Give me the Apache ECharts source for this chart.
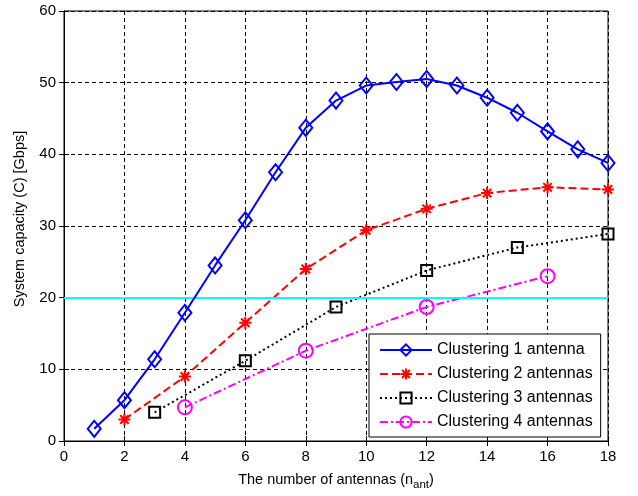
<!DOCTYPE html>
<html><head><meta charset="utf-8">
<script src="https://cdn.jsdelivr.net/npm/echarts@6/dist/echarts.min.js"></script>
<style>html,body{margin:0;padding:0;background:#fff}#c{width:638px;height:496px}</style>
</head><body><div id="c"></div>
<script>
const x1 = [1,2,3,4,5,6,7,8,9,10,11,12,13,14,15,16,17,18];
const y1 = [1.7,5.7,11.4,17.9,24.5,30.8,37.5,43.7,47.5,49.6,50.1,50.5,49.6,47.9,45.8,43.2,40.7,38.8];
const x2 = [2,4,6,8,10,12,14,16,18];
const y2 = [3.0,9.0,16.5,24.0,29.4,32.4,34.6,35.4,35.1];
const x3 = [3,6,9,12,15,18];
const y3 = [4.0,11.2,18.7,23.8,27.0,28.9];
const x4 = [4,8,12,16];
const y4 = [4.7,12.6,18.7,23.0];
const threshold = 20;
const seriesNames = ['Clustering 1 antenna','Clustering 2 antennas','Clustering 3 antennas','Clustering 4 antennas'];
const xTicks = [0,2,4,6,8,10,12,14,16,18];
const yTicks = [0,10,20,30,40,50,60];
const yTitle = 'System capacity (C) [Gbps]';

const pair = (xs, ys) => xs.map((x, i) => [x, ys[i]]);
const FONT = '"Liberation Sans", Arial, sans-serif';
const star = 'path://M0,-6L0,6M-6,0L6,0M-4.2,-4.2L4.2,4.2M-4.2,4.2L4.2,-4.2';

const chart = echarts.init(document.getElementById('c'), null, {renderer: 'canvas'});
const axisCommon = {
  axisLine: {show: true, lineStyle: {color: '#000', width: 1}},
  axisTick: {show: true, inside: true, length: 5, lineStyle: {color: '#000'}},
  axisLabel: {color: '#000', fontFamily: FONT, fontSize: 15},
};
chart.setOption({
  animation: false,
  backgroundColor: '#fff',
  grid: {left: 64, right: 30, top: 11, bottom: 55, show: true, borderColor: '#000', borderWidth: 1},
  graphic: [{
    type: 'text', rotation: Math.PI / 2,
    x: 20, y: 219,
    style: {text: yTitle, fontFamily: FONT, fontSize: 14.5, fill: '#000', align: 'center', verticalAlign: 'middle'}
  }],
  xAxis: [{
    type: 'value', min: 0, max: 18, interval: 2, position: 'bottom',
    ...axisCommon,
    axisLabel: {...axisCommon.axisLabel, margin: 8, formatter: v => xTicks.includes(v) ? String(v) : ''},
    splitLine: {show: true, lineStyle: {color: '#000', width: 1, type: [4, 3]}},
    name: '{a|The number of antennas (n}{s|ant}{a|)}',
    nameLocation: 'middle', nameGap: 28,
    nameTextStyle: {rich: {
      a: {fontFamily: FONT, fontSize: 14.5, color: '#000'},
      s: {fontFamily: FONT, fontSize: 11.5, color: '#000', verticalAlign: 'bottom', padding: [10, 0, 0, 0]}
    }}
  }, {
    type: 'value', min: 0, max: 18, interval: 2, position: 'top',
    axisLine: {show: true, lineStyle: {color: '#000'}},
    axisTick: {show: true, inside: true, length: 5, lineStyle: {color: '#000'}},
    axisLabel: {show: false}, splitLine: {show: false}
  }],
  yAxis: [{
    type: 'value', min: 0, max: 60, interval: 10, position: 'left',
    ...axisCommon,
    axisLabel: {...axisCommon.axisLabel, margin: 8, formatter: v => yTicks.includes(v) ? String(v) : ''},
    splitLine: {show: true, lineStyle: {color: '#000', width: 1, type: [4, 3]}}
  }, {
    type: 'value', min: 0, max: 60, interval: 10, position: 'right',
    axisLine: {show: true, lineStyle: {color: '#000'}},
    axisTick: {show: true, inside: true, length: 5, lineStyle: {color: '#000'}},
    axisLabel: {show: false}, splitLine: {show: false}
  }],
  legend: {
    orient: 'vertical', left: 369, top: 334, width: 212,
    backgroundColor: '#fff', borderColor: '#000', borderWidth: 1,
    padding: [7, 8, 6, 10], itemGap: 6, itemWidth: 52, itemHeight: 14,
    textStyle: {fontFamily: FONT, fontSize: 16, color: '#000', lineHeight: 18},
    data: seriesNames
  },
  series: [
    {
      name: seriesNames[0], type: 'line', data: pair(x1, y1),
      symbol: 'diamond', symbolSize: [13, 16], showAllSymbol: true,
      lineStyle: {color: '#0000ff', width: 2, type: 'solid'},
      itemStyle: {color: 'rgba(0,0,0,0)', borderColor: '#0000ff', borderWidth: 2},
      z: 5,
      markLine: {
        silent: true, symbol: 'none', label: {show: false},
        lineStyle: {color: '#00ffff', width: 2, type: 'solid'},
        data: [{yAxis: threshold}]
      }
    },
    {
      name: seriesNames[1], type: 'line', data: pair(x2, y2),
      symbol: star, symbolSize: 12, showAllSymbol: true,
      lineStyle: {color: '#ff0000', width: 2, type: [8, 4]},
      itemStyle: {color: 'rgba(0,0,0,0)', borderColor: '#ff0000', borderWidth: 2},
      z: 4
    },
    {
      name: seriesNames[2], type: 'line', data: pair(x3, y3),
      symbol: 'rect', symbolSize: 11, showAllSymbol: true,
      lineStyle: {color: '#000000', width: 2, type: [2, 3]},
      itemStyle: {color: 'rgba(0,0,0,0)', borderColor: '#000000', borderWidth: 2},
      z: 4
    },
    {
      name: seriesNames[3], type: 'line', data: pair(x4, y4),
      symbol: 'circle', symbolSize: 14, showAllSymbol: true,
      lineStyle: {color: '#ff00ff', width: 2, type: [8, 3, 2, 3]},
      itemStyle: {color: 'rgba(0,0,0,0)', borderColor: '#ff00ff', borderWidth: 2},
      z: 4
    }
  ]
});
</script></body></html>
